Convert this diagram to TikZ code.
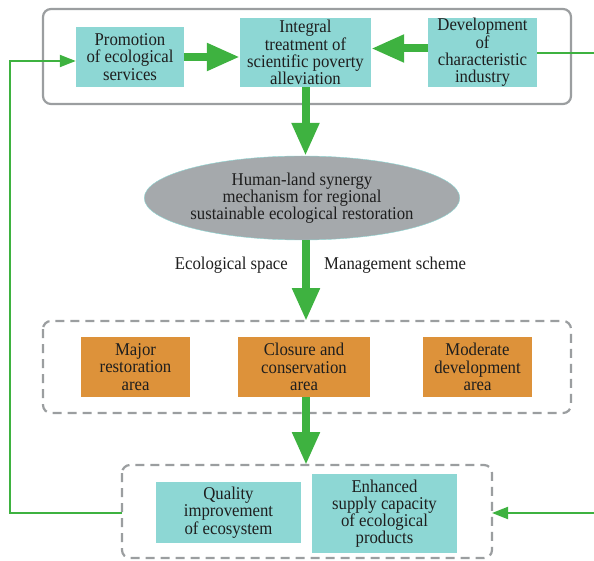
\documentclass[tikz,border=0pt]{standalone}
\usepackage{fontspec}
\setmainfont{Liberation Serif}[FakeStretch=0.93]
\usetikzlibrary{arrows.meta,positioning,shapes.geometric}
\definecolor{tealbox}{RGB}{141,215,212}
\definecolor{orangebox}{RGB}{221,146,58}
\definecolor{ovalgray}{RGB}{165,169,172}
\definecolor{framegray}{RGB}{155,158,160}
\definecolor{flowgreen}{RGB}{62,178,64}
\definecolor{inktext}{RGB}{30,30,30}

\begin{document}
\begin{tikzpicture}[x=1pt, y=-1pt,
    every node/.style={font=\fontsize{18}{17.2}\selectfont, text=inktext, align=center, inner sep=0pt},
    tealblock/.style={rectangle, fill=tealbox, minimum width=#1},
    areablock/.style={rectangle, fill=orangebox, minimum width=109pt, minimum height=60pt},
    frame/.style={draw=framegray, line width=2.2pt, rounded corners=8pt},
    fat/.style={-{Triangle[width=26pt,length=33pt]}, line width=8pt, flowgreen},
    feedback/.style={line width=2pt, flowgreen},
    feedarrow/.style={-{Triangle[width=12pt,length=16pt]}, line width=2pt, flowgreen}]

    \useasboundingbox (0,0) rectangle (594,561);

    % frames
    \draw[frame] (43,9) rectangle (571,104);
    \draw[frame, dashed, dash pattern=on 9pt off 6pt] (43,321) rectangle (571,413);
    \draw[frame, dashed, dash pattern=on 9pt off 6pt] (122,465) rectangle (492,558);
    \coordinate (midtop) at (306,321);
    \coordinate (lowtop) at (306,465);
    \coordinate (loweast) at (492,513);
    \coordinate (lowwest) at (122,513);

    % top row
    \node[tealblock=108pt, minimum height=60pt] (promo) at (130,57) {Promotion\\of ecological\\services};
    \node[tealblock=131pt, minimum height=69pt] (integral) at (305.5,52.5) {Integral\\treatment of\\scientific poverty\\alleviation};
    \node[tealblock=109pt, minimum height=69pt] (develop) at (482.5,52.5) {Development\\of\\characteristic\\industry};

    \draw[fat] (promo.east) -- (promo.east -| integral.west);
    \draw[fat] ([yshift=4pt]develop.west) -- ([yshift=4pt]integral.east);

    % mechanism
    \node[ellipse, fill=ovalgray, draw=tealbox, thin, minimum width=314pt, minimum height=84pt] (synergy) at (302,198) {Human-land synergy\\mechanism for regional\\sustainable ecological restoration};
    \draw[fat] (integral.south) -- (integral.south |- synergy.north);

    \node[anchor=east] (space) at (288,265) {Ecological space};
    \node[anchor=west] (scheme) at (324,265) {Management scheme};
    \draw[fat] (synergy.south -| midtop) -- (midtop);

    % zoning
    \node[areablock] (major) at (135.5,367) {Major\\restoration\\area};
    \node[areablock, minimum width=132pt] (closure) at (304,367) {Closure and\\conservation\\area};
    \node[areablock] (moderate) at (477.5,367) {Moderate\\development\\area};
    \draw[fat] (closure.south -| lowtop) -- (lowtop);

    % outcomes
    \node[tealblock=145pt, minimum height=61pt] (quality) at (228.5,512.5) {Quality\\improvement\\of ecosystem};
    \node[tealblock=145pt, minimum height=79pt] (supply) at (384.5,513.5) {Enhanced\\supply capacity\\of ecological\\products};

    % feedback loop
    \coordinate (rightin) at (594,513);
    \coordinate (rightout) at (594,53);
    \coordinate (leftbend) at (10,513);
    \draw[feedback] (develop.east |- rightout) -- (rightout);
    \draw[feedarrow] (rightin) -- (loweast);
    \draw[feedarrow] (lowwest) -- (leftbend) |- ([yshift=-4pt]promo.west);
\end{tikzpicture}
\end{document}
